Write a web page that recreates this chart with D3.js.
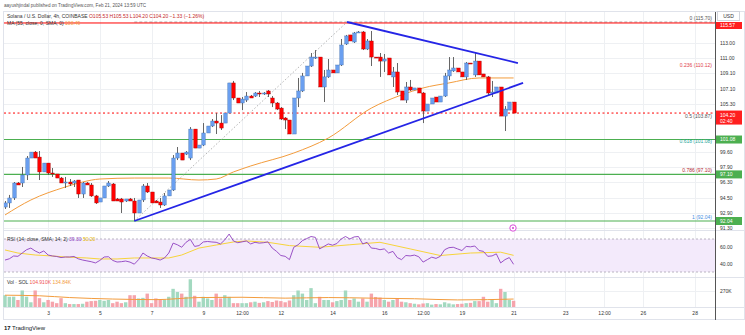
<!DOCTYPE html>
<html><head><meta charset="utf-8">
<script src="https://cdn.jsdelivr.net/npm/d3@7"></script>
<style>
html,body{margin:0;padding:0;background:#fff;}
svg{display:block;font-family:"Liberation Sans",Arial,sans-serif;}
</style></head><body>
<svg id="c" width="745" height="335"></svg>
<script>
// ---------- DATA ----------
const ohlc = [
[93.53,94.18,93.32,93.97],[93.97,94.84,93.43,94.51],[94.51,96.26,94.29,96.15],[96.15,96.26,95.93,95.93],[96.15,97.94,95.71,97.04],
[97.04,99.18,96.48,98.95],[98.95,99.63,98.95,99.63],[99.63,99.75,98.95,98.95],[99.06,99.75,96.48,97.38],[97.38,98.38,97.38,98.38],
[98.38,98.38,97.04,97.26],[97.26,97.82,96.82,97.15],[97.15,97.15,96.70,96.70],[96.70,96.82,96.15,96.15],[96.15,96.82,95.60,96.26],
[96.26,96.59,95.82,96.04],[96.15,96.48,95.71,96.37],[96.48,96.48,94.51,94.94],[94.94,96.26,94.51,96.15],[96.15,96.26,95.93,95.93],
[95.93,96.15,94.62,94.73],[94.73,94.84,93.86,93.97],[94.07,94.51,94.07,94.51],[94.51,95.82,94.51,95.82],[95.82,96.37,95.71,96.15],
[96.04,96.15,94.18,94.18],[94.40,94.51,94.18,94.18],[94.40,94.51,92.89,94.07],[94.18,94.40,94.07,94.40],[94.40,94.51,94.18,94.18],
[94.18,94.51,92.04,92.89],[92.89,94.29,92.89,94.29],[94.29,96.04,94.07,95.82],[95.82,96.15,95.05,95.16],[95.16,95.16,93.97,93.97],
[94.18,94.29,93.97,93.97],[94.07,94.51,93.43,93.75],[93.75,95.05,93.64,94.73],[94.73,95.38,94.73,95.38],[95.38,99.29,95.27,98.95],
[98.95,100.21,98.72,99.52],[99.52,99.52,98.72,98.72],[99.40,99.75,99.29,99.63],[98.95,102.54,98.72,102.30],[102.30,102.30,100.09,100.09],
[100.09,100.44,100.09,100.44],[100.44,103.01,100.32,101.84],[101.84,102.66,101.84,102.66],[102.66,103.49,102.54,103.25],[103.25,104.20,101.72,103.01],
[103.01,103.96,102.19,102.42],[103.01,104.20,103.01,104.20],[104.20,107.87,104.20,107.87],[107.87,108.12,105.77,106.02],[106.02,106.02,105.41,105.41],
[105.41,106.14,104.56,105.89],[105.77,106.75,105.53,106.26],[106.26,106.39,106.02,106.02],[106.26,106.75,106.14,106.63],[106.63,106.88,106.14,106.51],
[106.51,106.75,106.39,106.63],[106.88,107.00,106.14,106.51],[106.02,106.26,104.92,105.41],[105.41,105.53,104.56,104.68],[104.80,104.92,103.37,103.49],
[103.61,103.72,102.30,103.37],[103.37,103.37,101.72,101.72],[101.72,106.02,101.72,106.02],[106.02,108.49,104.92,106.88],[106.88,109.12,106.75,108.74],
[108.74,109.99,108.74,109.99],[109.99,111.65,109.87,111.13],[111.01,112.03,110.88,111.13],[111.13,111.13,107.37,107.37],[107.37,109.49,105.53,108.62],
[108.62,110.88,108.49,109.49],[109.49,109.49,109.12,109.12],[109.12,110.12,109.12,110.12],[110.12,113.46,109.99,112.68],[112.81,113.99,112.68,113.86],
[113.99,113.99,113.20,113.20],[113.07,114.38,112.94,114.25],[114.25,114.51,114.25,114.38],[114.38,114.51,112.03,112.16],[112.16,113.46,112.03,113.20],
[113.20,114.51,109.99,111.13],[111.13,111.13,111.01,111.01],[111.13,111.65,108.62,110.62],[110.62,111.52,109.24,110.88],[111.01,111.01,108.87,108.87],
[108.62,109.87,107.37,109.24],[109.24,110.37,106.39,106.75],[106.88,106.88,105.77,105.77],[105.77,107.99,105.41,107.37],[107.37,108.24,106.88,107.00],
[107.00,107.25,107.00,107.25],[107.25,107.25,106.63,106.63],[106.63,106.75,103.01,104.44],[104.44,105.29,104.44,105.29],[105.29,106.02,105.29,106.02],
[106.14,106.14,105.53,105.53],[105.53,106.26,105.53,106.26],[106.26,109.12,106.14,108.74],[108.74,111.13,108.24,109.49],[109.37,111.13,109.24,109.74],
[109.74,109.74,109.24,109.24],[109.24,109.24,108.62,108.62],[108.62,110.50,108.24,110.37],[110.37,110.37,110.25,110.25],[108.87,111.77,108.62,110.62],
[110.62,110.62,108.87,108.87],[108.99,108.99,108.62,108.62],[108.62,108.74,106.39,106.63],[106.63,108.12,106.14,106.75],[106.63,107.37,106.63,107.37],
[107.37,107.37,103.84,103.84],[103.84,105.04,102.07,104.68],[104.56,105.53,104.56,105.53],[105.53,105.53,104.20,104.20]
];
const volumeK = [200,173,175,119,280,175,80,280,150,80,
 119,90,65,150,65,50,50,50,55,90,
 100,105,119,105,119,65,90,65,80,200,
 200,145,155,227,65,145,119,119,173,308,
 254,227,173,470,190,90,173,145,119,227,
 145,200,173,65,65,65,65,80,90,70,
 80,100,85,110,100,80,110,200,280,227,
 119,320,65,173,119,119,80,100,119,280,
 119,145,90,145,90,227,170,160,119,90,
 119,145,90,80,65,55,45,60,65,40,
 50,45,80,60,45,50,55,65,70,100,
 100,173,90,119,65,308,254,119,104.91];
const rsi = [44.5,46,49.4,49,53,57,59,55.5,53,55.5,
 50.6,49.4,48.8,47.5,48.2,48.2,48.8,46,44.5,43.5,
 42.5,41,44,48.2,48.5,44,42.1,42.5,43.3,42,
 39.5,45,53,49.4,47,46,44.5,47,53,65,
 63,60,66,69.5,61,62,66.4,67,66.4,66,
 64,69,76,67.6,65.5,66.5,67.6,64,66,65,
 65.5,66.5,59,55,50,49,45,60,63,68,
 70.5,73,72,58,61,64,62.5,64.5,70,73,
 70,72.5,73,64,66,59,58.5,57,58,53,
 55,47.5,45,50,49.5,50.5,48.5,42,45,48,
 46.5,49,57,59.5,60,58,56,61,60.5,61.5,
 56,55,49,49.5,52,41,45,47.5,39.3];
const rsiMaIdx = [0,3,7,11,14,19,22,26,30,34,38,41,45,49,53,56,61,66,73,80,87,94,101,108,115,118];
const rsiMaVal = [56.7,53,50.6,49.4,48.2,47,45.8,45.8,47,47,47,50.6,59,62.7,66.4,67.6,66,62,60,63,66,58,50,53,54,50.2];
const ma55Idx = [0,6,14,18,22,30,38,45,49,53,57,67,75,85,92,97,103,110,118];
const ma55Val = [92.68,94.29,95.71,96.26,96.59,96.70,96.70,96.48,96.59,97.38,98.05,99.52,101.25,104.80,106.39,107.25,107.87,108.49,108.49];
const volMaIdx = [0,8,15,25,35,45,55,65,75,85,95,105,112,118];
const volMaVal = [200,190,160,135,125,160,165,150,160,150,140,120,125,134.84];
const priceTicks = [113.00,111.00,109.10,107.10,105.30,99.60,97.90,96.30,94.50,92.90,91.30];
const rsiTicks = [60,40];
const volTicks = [270];
const xTickIdx = [10,22,34,46,55,64,76,88,97,106,118,130,139,148,160];
const xTickLabels = ["3","5","7","9","12:00","12","14","16","12:00","19","21","23","12:00","26","28"];
const fibLow = 92.04, fibHigh = 115.70;
const fibLevels = [0,0.236,0.5,0.618,0.786,1];
const fibAnchors = [[30,92.04],[79.35,115.70]];
const lowerTrend = [[30,92.04],[120.2,107.87]];
const upperTrend = [[79.35,115.70],[119.0,110.37]];
const resistancePrice = 115.57;
const supportLevels = [0.618,0.786,1];

// ---------- LAYOUT ----------
const svg = d3.select("#c");
const axisX = 715, plotL = 4, plotT = 12;
const x = d3.scaleLinear().domain([0,118]).range([5,513.6]);
const y = d3.scaleLog().domain([fibLow,fibHigh]).range([221,22]);
const yR = d3.scaleLinear().domain([30,70]).range([272,239]);
const yV = d3.scaleLinear().domain([0,500]).range([307,277.5]);
const fs = 5;
const fibPrice = l => fibHigh - l*(fibHigh-fibLow);

svg.append("defs").append("clipPath").attr("id","pc").append("rect")
  .attr("x",plotL).attr("y",plotT).attr("width",axisX-plotL).attr("height",231-plotT);

// frame
svg.append("rect").attr("x",3.5).attr("y",11.5).attr("width",741).attr("height",308)
  .attr("fill","none").attr("stroke","#e0e3eb");

// grids
const grid = svg.append("g").attr("stroke","#eef0f3").attr("stroke-width",1);
priceTicks.forEach(t=>grid.append("line").attr("x1",plotL).attr("x2",axisX).attr("y1",Math.round(y(t))+0.5).attr("y2",Math.round(y(t))+0.5));
xTickIdx.forEach(t=>grid.append("line").attr("x1",Math.round(x(t))+0.5).attr("x2",Math.round(x(t))+0.5).attr("y1",plotT).attr("y2",307));
rsiTicks.forEach(t=>grid.append("line").attr("x1",plotL).attr("x2",axisX).attr("y1",Math.round(yR(t))+0.5).attr("y2",Math.round(yR(t))+0.5));
volTicks.forEach(t=>grid.append("line").attr("x1",plotL).attr("x2",axisX).attr("y1",Math.round(yV(t))+0.5).attr("y2",Math.round(yV(t))+0.5));

// pane separators
[230.5,277.5,307.5].forEach(v=>svg.append("line").attr("x1",plotL).attr("x2",745).attr("y1",v).attr("y2",v).attr("stroke","#e0e3eb"));

const pane = svg.append("g").attr("clip-path","url(#pc)");

// fib 0 dashed line
pane.append("line").attr("x1",x(fibAnchors[0][0])).attr("x2",axisX).attr("y1",y(fibHigh)).attr("y2",y(fibHigh))
  .attr("stroke","#9a9a9a").attr("stroke-dasharray","3,2").attr("stroke-width",0.8);
// resistance red line
pane.append("line").attr("x1",plotL).attr("x2",axisX).attr("y1",y(resistancePrice)).attr("y2",y(resistancePrice))
  .attr("stroke","#ff0000").attr("stroke-width",1);
// green support lines
supportLevels.forEach(l=>pane.append("line").attr("x1",plotL).attr("x2",axisX).attr("y1",y(fibPrice(l))).attr("y2",y(fibPrice(l)))
  .attr("stroke","#4caf50").attr("stroke-width",1.2));
// current price line
const last = ohlc[ohlc.length-1];
pane.append("line").attr("x1",plotL).attr("x2",axisX).attr("y1",y(last[3])).attr("y2",y(last[3]))
  .attr("stroke","#ff0000").attr("stroke-dasharray","2,2.5").attr("stroke-width",1);
// fib diagonal
pane.append("line").attr("x1",x(fibAnchors[0][0])).attr("y1",y(fibAnchors[0][1])).attr("x2",x(fibAnchors[1][0])).attr("y2",y(fibAnchors[1][1]))
  .attr("stroke","#a0a0a0").attr("stroke-dasharray","1.5,2").attr("stroke-width",0.8);

// MA55
const lineP = d3.line().x(d=>x(d[0])).y(d=>y(d[1])).curve(d3.curveMonotoneX);
pane.append("path").attr("d",lineP(ma55Idx.map((d,i)=>[d,ma55Val[i]])))
  .attr("fill","none").attr("stroke","#f39c3d").attr("stroke-width",1);

// candles
const cg = pane.append("g");
ohlc.forEach((d,i)=>{
  const [o,h,l,c]=d, bull=c>=o, cx=Math.round(x(i))+0.5;
  cg.append("line").attr("x1",cx).attr("x2",cx).attr("y1",y(h)).attr("y2",y(l)).attr("stroke","#555").attr("stroke-width",0.9);
  const yt=y(Math.max(o,c)), yb=y(Math.min(o,c));
  cg.append("rect").attr("x",cx-1.7).attr("width",3.4).attr("y",yt).attr("height",Math.max(1,yb-yt))
    .attr("fill",bull?"#6a9ff0":"#ff0000").attr("stroke",bull?"#3f6fae":"#a00000").attr("stroke-width",0.4);
});

// trendlines
const lineT = d3.line().x(d=>x(d[0])).y(d=>y(d[1]));
[lowerTrend,upperTrend].forEach(t=>pane.append("path").attr("d",lineT(t)).attr("fill","none").attr("stroke","#2525e6").attr("stroke-width",1.8));

// fib labels
const fibColors = ["#555","#e0404a","#555","#26a69a","#b22833","#4a90e2"];
const fibDy = [-2,2,2,3,-2,-2];
fibLevels.forEach((l,i)=>{
  svg.append("text").attr("x",712).attr("y",y(fibPrice(l))+fibDy[i]).attr("text-anchor","end")
    .attr("font-size",fs).attr("fill",fibColors[i]).text(`${l} (${fibPrice(l).toFixed(2)})`);
});

// RSI pane
svg.append("rect").attr("x",plotL).attr("width",axisX-plotL).attr("y",yR(70)).attr("height",yR(30)-yR(70)).attr("fill","#f3eafb");
[70,30].forEach(v=>svg.append("line").attr("x1",plotL).attr("x2",axisX).attr("y1",yR(v)).attr("y2",yR(v))
  .attr("stroke","#a8a3b3").attr("stroke-dasharray","2,2").attr("stroke-width",0.8));
const lineR = d3.line().x(d=>x(d[0])).y(d=>yR(d[1]));
svg.append("path").attr("d",lineR(rsiMaIdx.map((d,i)=>[d,rsiMaVal[i]]))).attr("fill","none").attr("stroke","#f7d43a").attr("stroke-width",1);
svg.append("path").attr("d",lineR(rsi.map((d,i)=>[i,d]))).attr("fill","none").attr("stroke","#8e3fbf").attr("stroke-width",0.9);

// volume pane
volumeK.forEach((v,i)=>{
  const d=ohlc[i], bull=d[3]>=d[0];
  svg.append("rect").attr("x",x(i)-1.7).attr("width",3.4).attr("y",yV(v)).attr("height",yV(0)-yV(v))
    .attr("fill",bull?"#a3d9c0":"#f6a4ac");
});
const lineV = d3.line().x(d=>x(d[0])).y(d=>yV(d[1])).curve(d3.curveMonotoneX);
svg.append("path").attr("d",lineV(volMaIdx.map((d,i)=>[d,volMaVal[i]]))).attr("fill","none").attr("stroke","#f39c3d").attr("stroke-width",1);

// axes
function styleAxis(g){ g.select(".domain").remove(); g.selectAll("text").attr("font-size",fs).attr("fill","#333").attr("font-family","Liberation Sans, Arial, sans-serif"); }
svg.append("g").attr("transform",`translate(${axisX},0)`)
  .call(d3.axisRight(y).tickValues(priceTicks).tickFormat(d3.format(".2f")).tickSize(0).tickPadding(5)).call(styleAxis);
svg.append("g").attr("transform",`translate(${axisX},0)`)
  .call(d3.axisRight(yR).tickValues(rsiTicks).tickFormat(d3.format(".2f")).tickSize(0).tickPadding(5)).call(styleAxis);
svg.append("g").attr("transform",`translate(${axisX},0)`)
  .call(d3.axisRight(yV).tickValues(volTicks).tickFormat(d=>d+"K").tickSize(0).tickPadding(5)).call(styleAxis);
svg.append("g").attr("transform",`translate(0,308)`)
  .call(d3.axisBottom(x).tickValues(xTickIdx).tickFormat((d,i)=>xTickLabels[i]).tickSize(0).tickPadding(3)).call(styleAxis);
svg.append("line").attr("x1",axisX+0.5).attr("x2",axisX+0.5).attr("y1",plotT).attr("y2",320).attr("stroke","#555").attr("stroke-width",1);

// axis labels (colored boxes)
function tag(py,txt,fill,h,txt2){
  const g=svg.append("g");
  g.append("rect").attr("x",axisX+1).attr("y",py-h/2).attr("width",26).attr("height",h).attr("fill",fill);
  g.append("text").attr("x",axisX+5).attr("y",txt2?py-0.8:py+1.8).attr("font-size",fs).attr("fill","#fff").text(txt);
  if(txt2) g.append("text").attr("x",axisX+5).attr("y",py+5).attr("font-size",fs).attr("fill","#fff").text(txt2);
}
tag(Math.max(y(resistancePrice),25.5),resistancePrice.toFixed(2),"#ff1f1f",7);
tag(y(last[3])+4.5,last[3].toFixed(2),"#ff1f1f",14,"02:40");
supportLevels.forEach(l=>tag(y(fibPrice(l)),fibPrice(l).toFixed(2),"#4caf50",8));
svg.append("rect").attr("x",axisX+2.5).attr("y",11.5).attr("width",22).attr("height",9).attr("fill","#fff").attr("stroke","#d1d4dc");
svg.append("text").attr("x",axisX+13.5).attr("y",17.8).attr("text-anchor","middle").attr("font-size",fs).attr("fill","#333").text("USD");

// headers
svg.append("text").attr("x",4).attr("y",7).attr("font-size",4.6).attr("fill","#555")
  .text("aayushjindal published on TradingView.com, Feb 21, 2024 13:59 UTC");
const prevC = ohlc[ohlc.length-2][3], chg = last[3]-prevC;
const t1 = svg.append("text").attr("x",7).attr("y",18).attr("font-size",fs).attr("fill","#333");
t1.append("tspan").text("Solana / U.S. Dollar, 4h, COINBASE  ");
t1.append("tspan").attr("fill","#c62828").text(`O${last[0].toFixed(2)} H${last[1].toFixed(2)} L${last[2].toFixed(2)} C${last[3].toFixed(2)} ${chg.toFixed(2).replace("-","−")} (${(chg/prevC*100).toFixed(2).replace("-","−")}%)`);
const t2 = svg.append("text").attr("x",7).attr("y",25).attr("font-size",fs).attr("fill","#333");
t2.append("tspan").text("MA (55, close, 0, SMA, 0)  ");
t2.append("tspan").attr("fill","#f39c3d").text(ma55Val[ma55Val.length-1].toFixed(2));
const t3 = svg.append("text").attr("x",7).attr("y",241).attr("font-size",fs).attr("fill","#333");
t3.append("tspan").text("RSI (14, close, SMA, 14, 2)  ");
t3.append("tspan").attr("fill","#8e3fbf").text(rsi[rsi.length-1].toFixed(2)+"  ");
t3.append("tspan").attr("fill","#e6b800").text(rsiMaVal[rsiMaVal.length-1].toFixed(2));
const t4 = svg.append("text").attr("x",7).attr("y",284).attr("font-size",fs).attr("fill","#333");
t4.append("tspan").text("Vol · SOL  ");
t4.append("tspan").attr("fill","#ef5350").text(volumeK[volumeK.length-1].toFixed(3)+"K  ");
t4.append("tspan").attr("fill","#f39c3d").text(volMaVal[volMaVal.length-1].toFixed(2)+"K");

// icon
svg.append("circle").attr("cx",513).attr("cy",228).attr("r",3.2).attr("fill","#fff").attr("stroke","#d63bd6").attr("stroke-width",0.9);
svg.append("circle").attr("cx",513).attr("cy",228).attr("r",1).attr("fill","#d63bd6");

// logo
svg.append("text").attr("x",4).attr("y",330).attr("font-size",6).attr("font-weight","bold").attr("fill","#131722").text("17");
svg.append("text").attr("x",12).attr("y",330).attr("font-size",6).attr("fill","#131722").text("TradingView");
</script>
</body></html>
